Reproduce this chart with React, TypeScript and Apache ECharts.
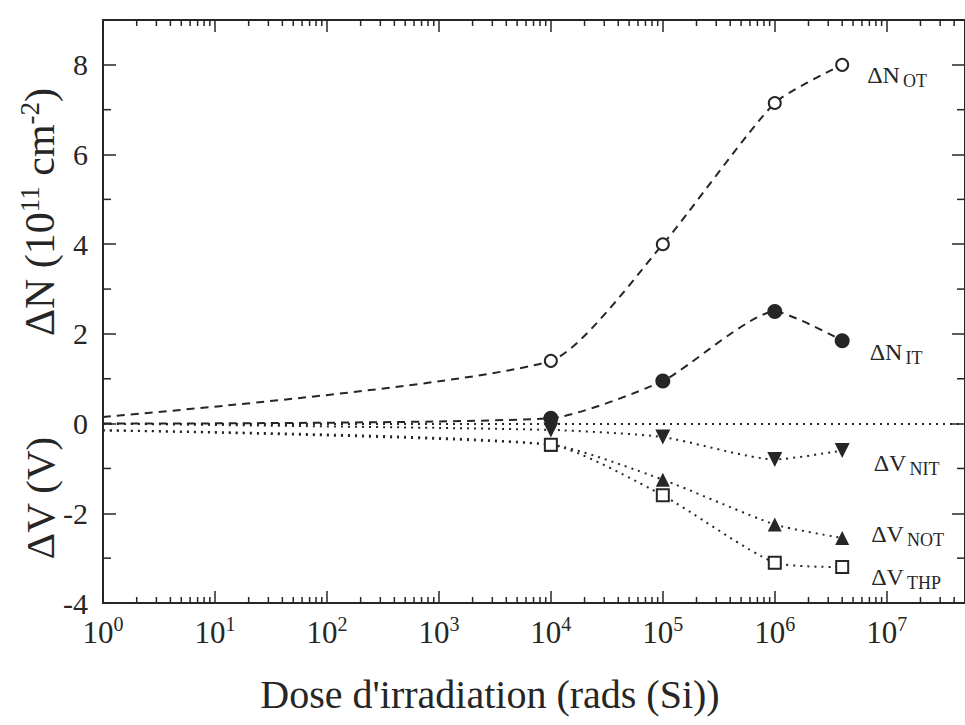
import React, { useEffect, useRef } from "react";
import * as echarts from "echarts";

// ---- data ----
const doses = [1, 1e4, 1e5, 1e6, 4e6];
const dNOT = [0.15, 1.4, 4.0, 7.15, 8.0];
const dNIT = [0.0, 0.12, 0.95, 2.5, 1.85];
const dVNIT = [0.0, -0.14, -0.3, -0.8, -0.6];
const dVNOT = [-0.15, -0.47, -1.25, -2.25, -2.55];
const dVTHP = [-0.15, -0.47, -1.6, -3.1, -3.2];

const xMin = 1;
const xMax = 5e7;
const yMin = -4;
const yMax = 9;
const decades = [1, 10, 100, 1e3, 1e4, 1e5, 1e6, 1e7];
const mantissas = [2, 3, 4, 5, 6, 7, 8, 9];
const yMinorTicks = [-3, -1, 1, 3, 5, 7];

const FONT = "'Liberation Serif', 'DejaVu Serif', 'Times New Roman', serif";
const INK = "#262626";

const xMinorTicks: number[] = [];
decades.forEach((d) => mantissas.forEach((m) => { if (d * m < xMax) xMinorTicks.push(d * m); }));

const DASHED = [8, 6];
const DOTTED = [2, 5];

function labelFor(main: string, sub: string, offset: number[]) {
  return {
    show: true,
    position: "right",
    distance: 16,
    offset,
    formatter: `{m|${main}}{s|${sub}}`,
    rich: {
      m: { fontSize: 24, lineHeight: 30, fontFamily: FONT, color: INK },
      s: { fontSize: 18, lineHeight: 18, fontFamily: FONT, color: INK, verticalAlign: "bottom", padding: [0, 0, 0, 3] },
    },
  };
}

function buildData(vals: number[], main: string, sub: string, offset: number[]) {
  return doses.map((d, i) => {
    if (i === 0) return { value: [d, vals[i]], symbol: "none" };
    if (i === doses.length - 1) return { value: [d, vals[i]], label: labelFor(main, sub, offset) };
    return { value: [d, vals[i]] };
  });
}

export default function App() {
  const ref = useRef<HTMLDivElement>(null);
  useEffect(() => {
    if (!ref.current) return;
    const chart = echarts.init(ref.current, null, { renderer: "svg" });
    const axisLineStyle = { color: INK, width: 2 };
    const tickStyle = { color: INK, width: 1.5 };
    const xCommon = {
      type: "log",
      logBase: 10,
      min: xMin,
      max: xMax,
      interval: 1,
      splitLine: { show: false },
      minorTick: { show: false },
      axisLine: { show: true, onZero: false, lineStyle: axisLineStyle },
      axisTick: { show: true, inside: true, length: 12, lineStyle: tickStyle },
    };
    const yCommon = {
      type: "value",
      min: yMin,
      max: yMax,
      interval: 2,
      splitLine: { show: false },
      axisLine: { show: true, onZero: false, lineStyle: axisLineStyle },
      axisTick: { show: true, inside: true, length: 13, lineStyle: tickStyle },
    };
    const lineSeries = (name: string, vals: number[], type: number[], symbol: string, size: number, main: string, sub: string, offset: number[], rotate = 0) => ({
      name,
      type: "line",
      xAxisIndex: 0,
      yAxisIndex: 0,
      data: buildData(vals, main, sub, offset),
      smooth: 0.2,
      symbol,
      symbolSize: size,
      symbolRotate: rotate,
      showAllSymbol: true,
      lineStyle: { color: INK, width: 2, type },
      itemStyle: { color: INK, borderWidth: 2 },
      z: 3,
    });
    chart.setOption({
      animation: false,
      backgroundColor: "#ffffff",
      grid: { left: 103, top: 20, width: 867, height: 583, containLabel: false },
      xAxis: [
        {
          ...xCommon,
          position: "bottom",
          axisLabel: {
            show: true,
            margin: 11,
            showMaxLabel: false,
            fontFamily: FONT,
            formatter: (v: number) => `{b|10}{p|${Math.round(Math.log10(v))}}`,
            rich: {
              b: { fontSize: 31, lineHeight: 36, fontFamily: FONT, color: INK },
              p: { fontSize: 20, lineHeight: 20, fontFamily: FONT, color: INK, verticalAlign: "top" },
            },
          },
        },
        { ...xCommon, position: "top", axisLabel: { show: false } },
      ],
      yAxis: [
        {
          ...yCommon,
          position: "left",
          axisLabel: { show: true, margin: 15, showMaxLabel: false, fontSize: 30, fontFamily: FONT, color: INK },
        },
        { ...yCommon, position: "right", axisLabel: { show: false } },
      ],
      graphic: [
        {
          type: "text",
          x: 490,
          y: 694,
          style: { text: "Dose d'irradiation (rads (Si))", font: `40px ${FONT}`, fill: INK, align: "center", verticalAlign: "middle" },
        },
        {
          type: "text",
          x: 40,
          y: 212,
          rotation: Math.PI / 2,
          style: {
            text: "{m|ΔN (10}{p|11}{m| cm}{p|-2}{m|)}",
            align: "center",
            verticalAlign: "middle",
            rich: {
              m: { fontSize: 42, lineHeight: 48, fontFamily: FONT, fill: INK },
              p: { fontSize: 27, lineHeight: 27, fontFamily: FONT, fill: INK, verticalAlign: "top" },
            },
          },
        },
        {
          type: "text",
          x: 40,
          y: 498,
          rotation: Math.PI / 2,
          style: { text: "ΔV (V)", font: `41px ${FONT}`, fill: INK, align: "center", verticalAlign: "middle" },
        },
      ],
      series: [
        {
          ...lineSeries("ΔN_OT", dNOT, DASHED, "emptyCircle", 12, "ΔN", "OT", [2, 10]),
          markLine: {
            silent: true,
            symbol: ["none", "none"],
            label: { show: false },
            lineStyle: { color: INK, width: 2, type: DOTTED },
            data: [{ yAxis: 0 }],
          },
        },
        lineSeries("ΔN_IT", dNIT, DASHED, "circle", 15, "ΔN", "IT", [4, 11]),
        lineSeries("ΔV_NIT", dVNIT, DOTTED, "triangle", 15, "ΔV", "NIT", [8, 12], 180),
        lineSeries("ΔV_NOT", dVNOT, DOTTED, "triangle", 14, "ΔV", "NOT", [6, -4]),
        lineSeries("ΔV_THP", dVTHP, DOTTED, "emptyRect", 12, "ΔV", "THP", [6, 10]),
        {
          name: "xMinor",
          type: "custom",
          xAxisIndex: 0,
          yAxisIndex: 0,
          silent: true,
          data: xMinorTicks.map((v) => [v, yMin]),
          renderItem: (_p: any, api: any) => {
            const v = api.value(0);
            const b = api.coord([v, yMin]);
            const t = api.coord([v, yMax]);
            return {
              type: "group",
              children: [
                { type: "line", shape: { x1: b[0], y1: b[1], x2: b[0], y2: b[1] - 6 }, style: { stroke: INK, lineWidth: 1.5 } },
                { type: "line", shape: { x1: t[0], y1: t[1], x2: t[0], y2: t[1] + 6 }, style: { stroke: INK, lineWidth: 1.5 } },
              ],
            };
          },
        },
        {
          name: "yMinor",
          type: "custom",
          xAxisIndex: 0,
          yAxisIndex: 0,
          silent: true,
          data: yMinorTicks.map((v) => [xMin, v]),
          renderItem: (_p: any, api: any) => {
            const v = api.value(1);
            const l = api.coord([xMin, v]);
            const r = api.coord([xMax, v]);
            return {
              type: "group",
              children: [
                { type: "line", shape: { x1: l[0], y1: l[1], x2: l[0] + 8, y2: l[1] }, style: { stroke: INK, lineWidth: 1.5 } },
                { type: "line", shape: { x1: r[0], y1: r[1], x2: r[0] - 8, y2: r[1] }, style: { stroke: INK, lineWidth: 1.5 } },
              ],
            };
          },
        },
      ],
    });
    return () => chart.dispose();
  }, []);
  return <div ref={ref} style={{ position: "fixed", left: 0, top: 0, width: 965, height: 725, background: "#fff" }} />;
}
